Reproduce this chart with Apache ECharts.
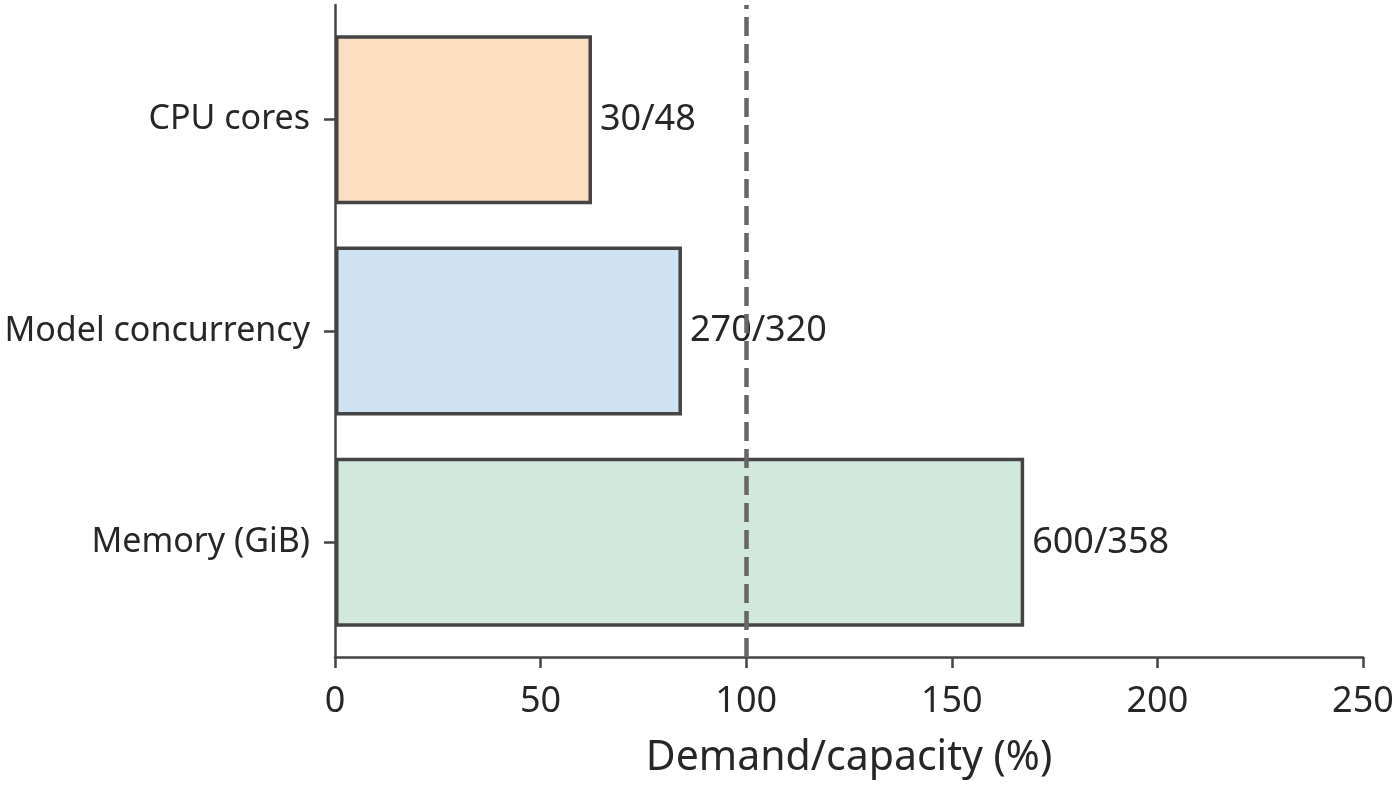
<!DOCTYPE html>
<html>
<head>
<meta charset="utf-8">
<script src="https://cdn.jsdelivr.net/npm/echarts@6/dist/echarts.min.js"></script>
<style>
  html, body { margin: 0; padding: 0; background: #fff; }
  #root { width: 1400px; height: 785px; }
</style>
</head>
<body>
<div id="root"></div>
<script>
// resource names, demand and capacity
const categories = ['CPU cores', 'Model concurrency', 'Memory (GiB)']
const demand = [30, 270, 600]
const capacity = [48, 320, 358]
const barColors = ['#f9dec0', '#cde3f3', '#d1e9dd']
const xTicks = { min: 0, max: 250, interval: 50 }
const threshold = 100

const FONT = 'Noto Sans'
const INK = '#262626'
const LINE = '#444444'

const ratios = demand.map((d, i) => d / capacity[i] * 100)

const chart = echarts.init(document.getElementById('root'))

const option = {
  animation: false,
  textStyle: { fontFamily: FONT },
  grid: [
    // bars live here (category bands)
    { left: 335, right: 37, top: 14, bottom: 137 },
    // frame: spine, x axis, threshold line
    { left: 335, right: 37, top: 5, bottom: 128 }
  ],
  xAxis: [
    {
      gridIndex: 0, type: 'value', min: xTicks.min, max: xTicks.max, interval: xTicks.interval,
      show: false
    },
    {
      gridIndex: 1, type: 'value', min: xTicks.min, max: xTicks.max, interval: xTicks.interval,
      axisLine: { show: true, lineStyle: { color: LINE, width: 2.5 } },
      axisTick: { show: true, length: 11, lineStyle: { color: LINE, width: 2.5 } },
      axisLabel: { fontSize: 36, color: INK, margin: 27, fontFamily: FONT },
      splitLine: { show: false },
      name: 'Demand/capacity (%)',
      nameLocation: 'middle',
      nameGap: 81,
      nameTextStyle: { fontSize: 41, color: INK, fontFamily: FONT }
    }
  ],
  yAxis: [
    {
      gridIndex: 0, type: 'category', data: categories, inverse: true,
      axisLine: { show: false },
      axisTick: { show: true, alignWithLabel: true, length: 11, lineStyle: { color: LINE, width: 2.5 } },
      axisLabel: { fontSize: 34, color: INK, margin: 25, fontFamily: FONT, padding: [8, 0, 0, 0] },
      splitLine: { show: false }
    },
    {
      gridIndex: 1, type: 'value', min: 0, max: 1,
      axisLine: { show: true, lineStyle: { color: LINE, width: 2.5 } },
      axisTick: { show: false },
      axisLabel: { show: false },
      splitLine: { show: false }
    }
  ],
  series: [
    {
      type: 'bar',
      xAxisIndex: 0, yAxisIndex: 0,
      barWidth: '80%',
      data: ratios.map((v, i) => ({
        value: v,
        itemStyle: { color: barColors[i] }
      })),
      itemStyle: { borderColor: LINE, borderWidth: 3.5 },
      label: {
        show: true,
        position: 'right',
        distance: 8,
        fontSize: 36,
        color: INK,
        fontFamily: FONT,
        padding: [4, 0, 0, 0],
        formatter: p => demand[p.dataIndex] + '/' + capacity[p.dataIndex]
      }
    },
    {
      type: 'line',
      xAxisIndex: 1, yAxisIndex: 1,
      data: [],
      markLine: {
        silent: true,
        symbol: 'none',
        label: { show: false },
        lineStyle: { color: '#666666', width: 4.5, type: [19, 8] },
        data: [{ xAxis: threshold }]
      }
    }
  ]
}

chart.setOption(option)
</script>
</body>
</html>
